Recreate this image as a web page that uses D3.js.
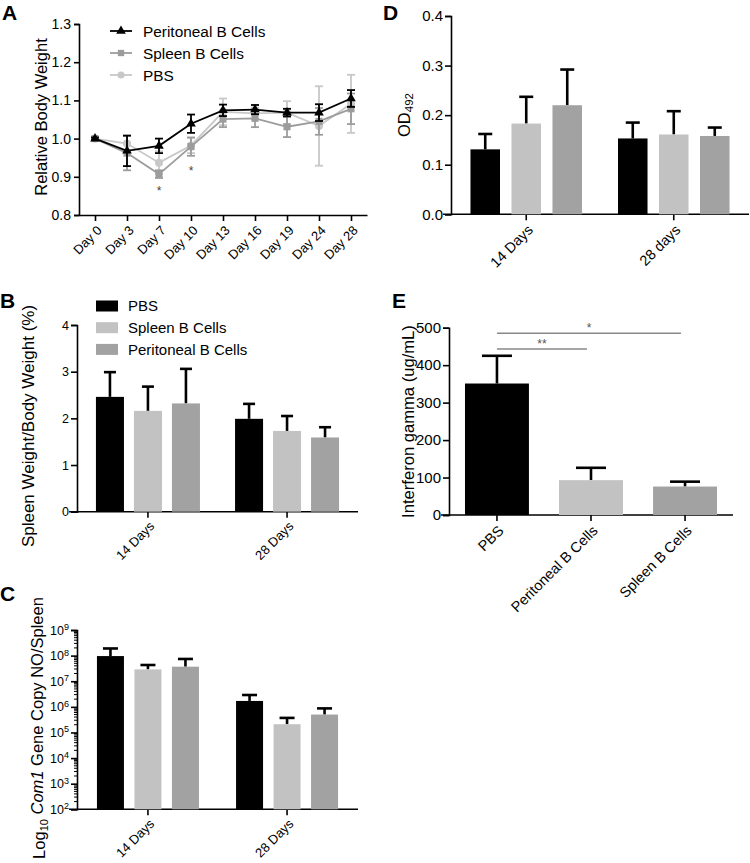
<!DOCTYPE html>
<html><head><meta charset="utf-8">
<script src="https://cdn.jsdelivr.net/npm/d3@7"></script>
<style>body{margin:0;background:#fff}svg{display:block}text{font-family:"Liberation Sans",Arial,sans-serif}</style>
</head><body><svg id="c" width="750" height="863"></svg>
<script>
// ---------- DATA ----------
const days = ["Day 0","Day 3","Day 7","Day 10","Day 13","Day 16","Day 19","Day 24","Day 28"];
const periA     = [1.000,0.968,0.981,1.039,1.074,1.076,1.068,1.068,1.105];
const periAErr  = [0.003,0.040,0.019,0.024,0.015,0.012,0.010,0.022,0.022];
const spleenA   = [1.000,0.962,0.907,0.979,1.051,1.053,1.031,1.045,1.078];
const spleenAErr= [0.003,0.045,0.010,0.024,0.021,0.023,0.027,0.035,0.040];
const pbsA      = [1.000,0.987,0.937,0.982,1.070,1.066,1.068,1.033,1.091];
const pbsAErr   = [0.003,0.020,0.030,0.020,0.035,0.015,0.030,0.104,0.076];
const seriesA = ["Peritoneal B Cells","Spleen B Cells","PBS"];

const groupsB = ["14 Days","28 Days"];
const seriesB = ["PBS","Spleen B Cells","Peritoneal B Cells"];
const pbsB = [2.46,1.99],   pbsBErr = [0.53,0.32];
const spleenB = [2.16,1.73], spleenBErr = [0.52,0.32];
const periB = [2.32,1.59],  periBErr = [0.74,0.22];

const groupsC = ["14 Days","28 Days"];
const pbsC = [9.6e7,1.7e6],   pbsCErr = [9.4e7,1.2e6];
const spleenC = [2.9e7,2.1e5], spleenCErr = [1.4e7,1.6e5];
const periC = [3.7e7,5.0e5],  periCErr = [3.7e7,3.7e5];
const ticksC = [1e2,1e3,1e4,1e5,1e6,1e7,1e8,1e9];

const groupsD = ["14 Days","28 days"];
const pbsD = [0.131,0.153],   pbsDErr = [0.031,0.032];
const spleenD = [0.183,0.161], spleenDErr = [0.054,0.047];
const periD = [0.220,0.158],  periDErr = [0.072,0.017];

const catsE = ["PBS","Peritoneal B Cells","Spleen B Cells"];
const valsE = [351,93,76];
const errE  = [74,33,13];
const sigE = [{from:"PBS",to:"Spleen B Cells",label:"*"},{from:"PBS",to:"Peritoneal B Cells",label:"**"}];

// ---------- STYLE ----------
const BLACK="#000", LIGHT="#c2c2c2", MID="#a2a2a2";
const svg = d3.select("#c");

function styleAxis(g, fs){
  g.selectAll("path.domain").attr("stroke","#000").attr("stroke-width",1.6);
  g.selectAll(".tick line").attr("stroke","#000").attr("stroke-width",1.6);
  g.selectAll(".tick text").attr("font-size",fs).attr("fill","#000").attr("font-family",'"Liberation Sans",Arial,sans-serif');
}
function panelLetter(t,x,y){
  svg.append("text").attr("x",x).attr("y",y).attr("font-size",21).attr("font-weight","bold").text(t);
}
function yLabel(x,y,fs,build){
  const t = svg.append("text").attr("transform",`translate(${x},${y}) rotate(-90)`)
    .attr("text-anchor","middle").attr("font-size",fs);
  build(t);
}
function rotLabels(g, fs, dx, dy){
  g.selectAll(".tick text").attr("font-size",fs).attr("text-anchor","end")
    .attr("transform",`translate(${dx},${dy}) rotate(-45)`).attr("dy","0.35em").attr("dx",0).attr("y",0).attr("x",0);
}

// ---------- PANEL A ----------
(function(){
  const x = d3.scalePoint().domain(days).range([79,367]).padding(0.5);
  const y = d3.scaleLinear().domain([0.8,1.3]).range([215,24]);
  const gy = svg.append("g").attr("transform","translate(79,0)")
    .call(d3.axisLeft(y).tickValues([0.8,0.9,1.0,1.1,1.2,1.3]).tickFormat(d3.format(".1f")).tickSize(5).tickPadding(3));
  styleAxis(gy,14);
  const gx = svg.append("g").attr("transform","translate(0,215)")
    .call(d3.axisBottom(x).tickSize(6).tickSizeOuter(0));
  styleAxis(gx,13);
  rotLabels(gx,13,4,13);
  const defs = [
    {name:"PBS", vals:pbsA, err:pbsAErr, color:"#c8c8c8", shape:d3.symbolCircle},
    {name:"Spleen B Cells", vals:spleenA, err:spleenAErr, color:"#9c9c9c", shape:d3.symbolSquare},
    {name:"Peritoneal B Cells", vals:periA, err:periAErr, color:"#000", shape:d3.symbolTriangle}
  ];
  defs.forEach(s=>{
    const g = svg.append("g");
    const line = d3.line().x((d,i)=>x(days[i])).y(d=>y(d));
    g.append("path").attr("d",line(s.vals)).attr("fill","none").attr("stroke",s.color).attr("stroke-width",1.8);
    s.vals.forEach((v,i)=>{
      const cx = x(days[i]);
      g.append("line").attr("x1",cx).attr("x2",cx).attr("y1",y(v-s.err[i])).attr("y2",y(v+s.err[i])).attr("stroke",s.color).attr("stroke-width",1.8);
      [v-s.err[i],v+s.err[i]].forEach(e=>g.append("line").attr("x1",cx-4).attr("x2",cx+4).attr("y1",y(e)).attr("y2",y(e)).attr("stroke",s.color).attr("stroke-width",1.8));
      g.append("path").attr("d",d3.symbol().type(s.shape).size(s.shape===d3.symbolTriangle?40:50)()).attr("transform",`translate(${cx},${y(v)})`).attr("fill",s.color);
    });
  });
  // significance stars
  svg.append("text").attr("x",x("Day 7")).attr("y",195).attr("text-anchor","middle").attr("font-size",12).attr("fill","#444").text("*");
  svg.append("text").attr("x",x("Day 10")).attr("y",175).attr("text-anchor","middle").attr("font-size",12).attr("fill","#444").text("*");
  // legend
  const leg = [["Peritoneal B Cells","#000",d3.symbolTriangle],["Spleen B Cells","#9c9c9c",d3.symbolSquare],["PBS","#c8c8c8",d3.symbolCircle]];
  leg.forEach((l,i)=>{
    const ly = 31 + i*22;
    svg.append("line").attr("x1",110).attr("x2",132).attr("y1",ly).attr("y2",ly).attr("stroke",l[1]).attr("stroke-width",1.8);
    svg.append("path").attr("d",d3.symbol().type(l[2]).size(40)()).attr("transform",`translate(121,${ly})`).attr("fill",l[1]);
    svg.append("text").attr("x",143).attr("y",ly).attr("dy","0.36em").attr("font-size",15.4).text(l[0]);
  });
  yLabel(47,117,16.5,t=>t.text("Relative Body Weight"));
  panelLetter("A",2,20);
})();

// ---------- generic grouped bar ----------
function groupedBars(o){
  const xg = d3.scaleBand().domain(o.groups).range(o.xr).paddingInner(0).paddingOuter(0.01);
  const names = o.series.map(s=>s.name);
  const half = o.subStep*1.5;
  const xs = d3.scaleBand().domain(names).range([-half,half]).paddingInner(o.subPad).paddingOuter(o.subPad/2);
  const gy = svg.append("g").attr("transform",`translate(${o.xr[0]},0)`).call(o.yAxis);
  styleAxis(gy,o.tfs);
  if(o.after) o.after(gy);
  const gx = svg.append("g").attr("transform",`translate(0,${o.y.range()[0]})`)
    .call(d3.axisBottom(xg).tickSize(6).tickSizeOuter(0));
  styleAxis(gx,o.xfs);
  gx.select("path.domain").attr("d",`M${o.xr[0]-8},0H${o.xr[1]}`);
  rotLabels(gx,o.xfs,o.ldx,o.ldy);
  o.series.forEach(s=>{
    o.groups.forEach((g,i)=>{
      const cx = xg(g)+xg.bandwidth()/2 + xs(s.name);
      const mid = cx + xs.bandwidth()/2;
      const v = s.vals[i], e = v + s.err[i];
      svg.append("line").attr("x1",mid).attr("x2",mid).attr("y1",o.y(v)).attr("y2",o.y(e)).attr("stroke","#000").attr("stroke-width",2.6);
      svg.append("line").attr("x1",mid-o.cap/2).attr("x2",mid+o.cap/2).attr("y1",o.y(e)).attr("y2",o.y(e)).attr("stroke","#000").attr("stroke-width",2.6);
      svg.append("rect").attr("x",cx).attr("width",xs.bandwidth()).attr("y",o.y(v)).attr("height",o.y.range()[0]-o.y(v)).attr("fill",s.color);
    });
  });
}

// ---------- PANEL B ----------
(function(){
  const y = d3.scaleLinear().domain([0,4]).range([511.7,325]);
  groupedBars({groups:groupsB, xr:[77,358], y, subStep:38, subPad:0.263, cap:12, tfs:12.5, xfs:13, ldx:4, ldy:12,
    yAxis:d3.axisLeft(y).ticks(4).tickSize(6).tickPadding(2),
    series:[{name:"PBS",vals:pbsB,err:pbsBErr,color:BLACK},{name:"Spleen B Cells",vals:spleenB,err:spleenBErr,color:LIGHT},{name:"Peritoneal B Cells",vals:periB,err:periBErr,color:MID}]});
  const cols=[BLACK,LIGHT,MID];
  seriesB.forEach((s,i)=>{
    const ly = 306 + i*21.7;
    svg.append("rect").attr("x",96).attr("y",ly-5.5).attr("width",22).attr("height",11).attr("fill",cols[i]);
    svg.append("text").attr("x",128).attr("y",ly).attr("dy","0.36em").attr("font-size",15).text(s);
  });
  yLabel(34,426,17,t=>t.text("Spleen Weight/Body Weight (%)"));
  panelLetter("B",0,308);
})();

// ---------- PANEL C ----------
(function(){
  const y = d3.scaleLog().domain([1e2,1e9]).range([809.3,630]);
  groupedBars({groups:groupsC, xr:[77,358], y, subStep:37.5, subPad:0.28, cap:15, tfs:12.5, xfs:13, ldx:4, ldy:12,
    yAxis:d3.axisLeft(y).tickValues(ticksC).tickFormat(()=>"").tickSize(6).tickPadding(2),
    after:(gy)=>{
      gy.selectAll(".tick text").each(function(d){
        const t=d3.select(this); t.text(null);
        t.append("tspan").text("10");
        t.append("tspan").attr("dy","-0.5em").attr("font-size",9).text(Math.round(Math.log10(d)));
      });
      const minor=[];
      for(let k=2;k<9;k++) for(let m=2;m<10;m++) minor.push(m*Math.pow(10,k));
      gy.selectAll("line.minor").data(minor).enter().append("line").attr("class","minor")
        .attr("x1",-3).attr("x2",0).attr("y1",d=>y(d)).attr("y2",d=>y(d)).attr("stroke","#000").attr("stroke-width",1);
    },
    series:[{name:"PBS",vals:pbsC,err:pbsCErr,color:BLACK},{name:"Spleen B Cells",vals:spleenC,err:spleenCErr,color:LIGHT},{name:"Peritoneal B Cells",vals:periC,err:periCErr,color:MID}]});
  yLabel(45,728,16.5,t=>{
    t.append("tspan").text("Log");
    t.append("tspan").attr("font-size",11).attr("dy","0.3em").text("10");
    t.append("tspan").attr("dy","-0.3em").text(" ");
    t.append("tspan").attr("font-style","italic").text("Com1");
    t.append("tspan").text(" Gene Copy NO/Spleen");
  });
  panelLetter("C",0,601);
})();

// ---------- PANEL D ----------
(function(){
  const y = d3.scaleLinear().domain([0,0.4]).range([214.3,16]);
  groupedBars({groups:groupsD, xr:[451,749], y, subStep:41, subPad:0.28, cap:14, tfs:15, xfs:14.5, ldx:4, ldy:13,
    yAxis:d3.axisLeft(y).ticks(4).tickFormat(d3.format(".1f")).tickSize(6).tickPadding(2),
    series:[{name:"PBS",vals:pbsD,err:pbsDErr,color:BLACK},{name:"Spleen B Cells",vals:spleenD,err:spleenDErr,color:LIGHT},{name:"Peritoneal B Cells",vals:periD,err:periDErr,color:MID}]});
  yLabel(410,115,16.5,t=>{
    t.append("tspan").text("OD");
    t.append("tspan").attr("font-size",11.5).attr("dy","0.3em").text("492");
  });
  panelLetter("D",383,20);
})();

// ---------- PANEL E ----------
(function(){
  const x = d3.scaleBand().domain(catsE).range([449,733]).paddingInner(0.32).paddingOuter(0.17);
  const y = d3.scaleLinear().domain([0,500]).range([515,327.7]);
  const gy = svg.append("g").attr("transform","translate(449,0)").call(d3.axisLeft(y).ticks(5).tickSize(6).tickPadding(2));
  styleAxis(gy,15);
  const gx = svg.append("g").attr("transform","translate(0,515)").call(d3.axisBottom(x).tickSize(6).tickSizeOuter(0));
  styleAxis(gx,14.5);
  gx.select("path.domain").attr("d","M441,0H733");
  rotLabels(gx,14.5,4,13);
  const cols=[BLACK,LIGHT,MID];
  catsE.forEach((c,i)=>{
    const mid = x(c)+x.bandwidth()/2;
    svg.append("line").attr("x1",mid).attr("x2",mid).attr("y1",y(valsE[i])).attr("y2",y(valsE[i]+errE[i])).attr("stroke","#000").attr("stroke-width",2.6);
    svg.append("line").attr("x1",mid-15).attr("x2",mid+15).attr("y1",y(valsE[i]+errE[i])).attr("y2",y(valsE[i]+errE[i])).attr("stroke","#000").attr("stroke-width",2.6);
    svg.append("rect").attr("x",x(c)).attr("width",x.bandwidth()).attr("y",y(valsE[i])).attr("height",515-y(valsE[i])).attr("fill",cols[i]);
  });
  const sigY=[333.3,349];
  sigE.forEach((s,i)=>{
    const x1=x(s.from)+x.bandwidth()/2, x2=x(s.to)+x.bandwidth()/2-4;
    svg.append("line").attr("x1",x1).attr("x2",x2).attr("y1",sigY[i]).attr("y2",sigY[i]).attr("stroke","#888").attr("stroke-width",1.4);
    svg.append("text").attr("x",(x1+x2)/2).attr("y",sigY[i]-1).attr("text-anchor","middle").attr("font-size",12).attr("fill","#555").text(s.label);
  });
  yLabel(414,421.5,16.6,t=>t.text("Interferon gamma (ug/mL)"));
  panelLetter("E",392,308);
})();
</script></body></html>
